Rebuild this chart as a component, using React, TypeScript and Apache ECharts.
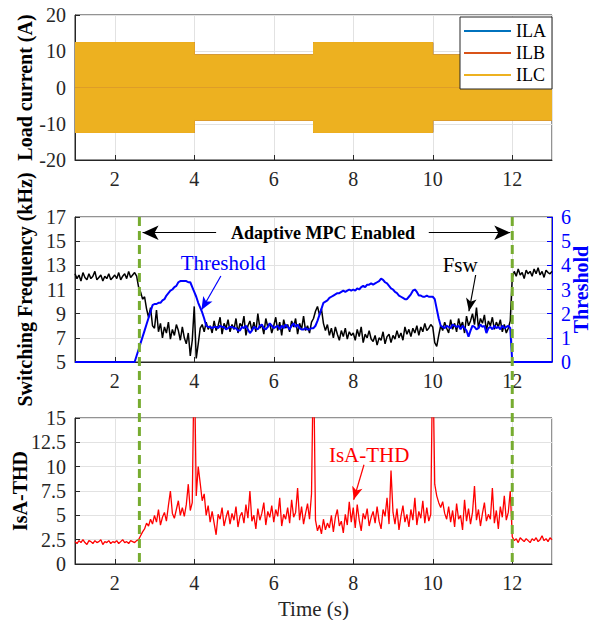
import React, { useEffect, useRef } from "react";
import * as echarts from "echarts";

const FONT = "Liberation Serif, Times New Roman, serif";

// sampling of the measured traces (s)
const T0 = 1;
const DT = 0.05;

// Load current envelope (A)
const loadTimes = [1, 4, 4, 7, 7, 10, 10, 13];
const loadAmplitude = [12.4, 12.4, 9, 9, 12.4, 12.4, 9, 9];
const phaseNames = ["ILA", "ILB", "ILC"];
const phaseColors = ["#0072BD", "#D95319", "#EDB120"];

// Switching frequency (kHz), t = 1 .. 13 step 0.05
const fswValues = [
  12.3, 11.9, 12.2, 11.7, 12.4, 12.0, 11.8, 12.3, 11.9, 12.1,
  12.5, 11.8, 12.0, 12.2, 11.7, 12.1, 11.9, 12.3, 11.8, 12.0,
  12.2, 11.9, 12.4, 11.8, 12.1, 12.3, 11.9, 12.5, 12.0, 12.2,
  12.4, 12.1, 11.2, 10.8, 10.2, 10.4, 9.4, 8.7, 9.5, 8.0,
  7.8, 9.3, 7.5, 8.2, 7.0, 7.9, 7.4, 8.3, 6.9, 7.7,
  7.2, 8.1, 7.6, 6.8, 7.9, 7.0, 6.5, 7.4, 5.5, 6.8,
  9.6, 5.3, 6.5, 7.8, 8.1, 7.5, 8.3, 7.7, 8.0, 7.4,
  8.4, 7.6, 8.0, 8.7, 7.3, 8.2, 7.8, 8.5, 7.5, 8.1,
  7.7, 8.6, 7.4, 8.2, 7.9, 8.8, 7.2, 8.0, 8.4, 7.6,
  8.3, 7.5, 9.0, 7.8, 8.1, 7.3, 8.6, 7.9, 8.2, 7.4,
  8.0, 8.7, 7.6, 8.3, 7.2, 8.5, 7.8, 8.1, 7.5, 8.4,
  7.9, 8.6, 7.3, 8.2, 7.7, 8.8, 7.6, 8.0, 7.4, 8.3,
  8.6, 9.2, 9.6, 8.9, 9.4, 8.2, 7.6, 8.1, 7.2, 7.8,
  7.0, 7.9, 7.3, 6.8, 7.6, 7.1, 7.8, 6.9, 7.5, 7.2,
  7.4, 6.8, 7.7, 7.1, 7.9, 6.6, 7.3, 7.0, 7.6, 6.9,
  6.7, 7.2, 6.4, 7.0, 6.8, 7.5, 6.5, 7.1, 7.3, 6.6,
  7.2, 6.9, 7.6, 7.0, 7.4, 6.8, 7.9, 7.3, 7.7, 7.1,
  7.8, 7.4, 8.0, 7.2, 7.9, 7.5, 8.2, 7.6, 7.8, 8.1,
  7.9, 6.6, 6.3, 7.2, 8.0, 7.6, 8.3, 7.8, 7.4, 8.5,
  7.7, 8.2, 7.5, 8.6, 7.9, 8.3, 7.4, 8.8, 8.0, 8.4,
  9.0, 8.1, 9.5, 7.8, 8.6, 8.2, 8.9, 7.6, 8.4, 8.0,
  8.7, 7.7, 8.3, 7.9, 8.5, 7.5, 8.1, 7.4, 7.8, 8.4,
  12.0, 12.5, 12.1, 12.7, 12.2, 12.4, 11.9, 12.6, 12.3, 12.5,
  12.1, 12.7, 12.3, 12.8, 12.2, 12.5, 12.0, 12.6, 12.4, 12.3,
  12.5,
];

// Threshold (right axis), t = 1 .. 13 step 0.05
const thresholdValues = [
  0, 0, 0, 0, 0, 0, 0, 0, 0, 0,
  0, 0, 0, 0, 0, 0, 0, 0, 0, 0,
  0, 0, 0, 0, 0, 0, 0, 0, 0, 0,
  0, 0.26, 0.52, 0.78, 1.04, 1.3, 1.56, 1.82, 2.08, 2.35,
  2.4, 2.4, 2.45, 2.45, 2.55, 2.6, 2.75, 2.85, 2.95, 3.0,
  3.1, 3.15, 3.3, 3.35, 3.35, 3.35, 3.35, 3.3, 3.3, 3.1,
  2.9, 2.7, 2.45, 2.25, 2.05, 1.8, 1.5, 1.45, 1.45, 1.4,
  1.45, 1.45, 1.4, 1.5, 1.45, 1.45, 1.35, 1.4, 1.45, 1.45,
  1.4, 1.4, 1.3, 1.3, 1.45, 1.4, 1.5, 1.35, 1.2, 1.3,
  1.45, 1.4, 1.35, 1.5, 1.55, 1.4, 1.35, 1.45, 1.6, 1.5,
  1.4, 1.45, 1.5, 1.35, 1.5, 1.4, 1.55, 1.45, 1.35, 1.5,
  1.6, 1.45, 1.55, 1.4, 1.35, 1.35, 1.4, 1.35, 1.35, 1.4,
  1.4, 1.5, 1.7, 1.95, 2.2, 2.45, 2.5, 2.55, 2.65, 2.7,
  2.75, 2.8, 2.85, 2.85, 2.9, 2.95, 2.9, 2.95, 3.0, 2.95,
  3.0, 2.95, 3.05, 3.0, 3.1, 3.15, 3.1, 3.2, 3.2, 3.25,
  3.2, 3.25, 3.3, 3.35, 3.45, 3.4, 3.3, 3.25, 3.15, 3.05,
  3.0, 2.9, 2.85, 2.75, 2.7, 2.65, 2.6, 2.6, 2.7, 2.8,
  2.95, 3.0, 2.9, 2.75, 2.75, 2.7, 2.7, 2.75, 2.7, 2.7,
  2.7, 2.6, 2.2, 1.8, 1.5, 1.45, 1.4, 1.5, 1.45, 1.4,
  1.55, 1.5, 1.45, 1.5, 1.35, 1.5, 1.4, 1.3, 1.05, 1.3,
  1.5, 1.45, 1.35, 1.4, 1.55, 1.45, 1.5, 1.2, 1.4, 1.45,
  1.35, 1.5, 1.4, 1.45, 1.35, 1.5, 1.4, 1.45, 1.5, 1.4,
  0, 0, 0, 0, 0, 0, 0, 0, 0, 0,
  0, 0, 0, 0, 0, 0, 0, 0, 0, 0,
  0,
];

// IsA THD, t = 1 .. 13 step 0.05 (values above 15 are clipped by the axis)
const thdValues = [
  2.3, 2.1, 2.4, 2.2, 2.5, 2.2, 2.0, 2.4, 2.3, 2.1,
  2.4, 2.2, 2.3, 2.5, 2.0, 2.3, 2.2, 2.4, 2.1, 2.3,
  2.2, 2.4, 2.1, 2.3, 2.5, 2.2, 2.3, 2.1, 2.4, 2.3,
  2.2, 2.4, 2.5, 2.9, 3.3, 3.6, 4.2, 3.9, 4.6, 4.1,
  5.0, 4.3, 5.6, 4.0, 4.8, 5.3, 4.4, 6.0, 7.5, 5.2,
  4.7, 5.6, 6.5, 5.0, 5.8, 4.9, 6.1, 8.2, 5.5, 6.3,
  22, 7.0, 10.0, 8.3, 6.5, 7.2, 5.0, 6.0, 4.3, 5.4,
  4.2, 3.0, 5.1, 4.6, 5.8, 3.9, 4.8, 5.5, 4.1, 5.2,
  4.5, 5.9, 3.8, 4.9, 5.3, 4.2, 6.1, 4.7, 7.5, 4.4,
  5.0, 3.6, 5.7, 4.5, 5.2, 6.3, 4.0, 5.4, 4.8, 6.0,
  4.3, 5.6, 4.9, 6.8, 3.9, 5.1, 4.6, 5.8, 4.2, 6.6,
  4.8, 5.3, 7.8, 4.5, 5.9, 4.1, 5.2, 6.2, 4.6, 7.2,
  22, 4.5, 3.4, 4.0, 3.1, 4.6, 3.5, 4.2, 3.7, 5.0,
  3.3, 4.8, 5.6, 3.9, 4.4, 3.2, 5.1, 4.0, 6.4, 4.3,
  5.8, 3.7, 6.1, 4.5, 3.4, 5.2, 4.6, 5.7, 3.9, 4.8,
  5.4, 4.2, 5.9, 4.4, 3.6, 5.6, 4.9, 6.8, 4.1, 9.6,
  5.3, 4.1, 5.7, 3.5, 4.9, 6.0, 4.3, 5.1, 3.8, 5.6,
  4.5, 6.8, 4.0, 5.4, 4.7, 6.5, 4.2, 5.8, 4.4, 5.1,
  22, 8.2, 7.0, 6.3, 5.8, 6.4, 5.2, 4.6, 5.9, 4.3,
  5.5, 3.8, 6.2, 4.6, 5.0, 3.5, 6.6, 4.4, 5.7, 4.1,
  5.3, 8.0, 4.5, 5.6, 3.9, 5.2, 6.3, 4.4, 5.1, 4.6,
  7.8, 4.2, 5.5, 3.6, 5.9, 4.8, 7.0, 4.5, 5.3, 7.5,
  2.8, 2.4, 2.6, 2.2, 2.7, 2.5, 2.3, 2.6, 2.4, 2.2,
  2.6, 2.4, 2.7, 2.3, 2.5, 2.9, 2.4, 2.6, 2.3, 2.7,
  2.5,
];

// Adaptive MPC enable / disable instants (s)
const enableTimes = [2.62, 12];

// annotation anchors [t, value]
const adaptiveText = [7.24, 15.7];
const adaptiveLeftArrow = [[4.55, 15.7], [2.7, 15.7]];
const adaptiveRightArrow = [[9.9, 15.7], [11.95, 15.7]];
const thresholdText = [4.73, 13.17];
const thresholdArrow = [[4.67, 12.12], [4.18, 9.3]];
const fswText = [10.69, 13.0];
const fswArrow = [[11.08, 12.2], [10.91, 9.2]];
const thdText = [8.4, 11.2];
const thdArrow = [[8.27, 10.2], [8.01, 6.6]];

const toPairs = (vals: number[]) => vals.map((v, i) => [+(T0 + i * DT).toFixed(2), v]);

const GRID_COLOR = "#e2e2e2";
const AXIS_COLOR = "#262626";

const txt = (size: number, color: string, bold = false) => ({
  fontFamily: FONT,
  fontSize: size,
  fontWeight: bold ? "bold" : "normal",
  fontStyle: "normal",
  color,
});

function xAxisCfg(gridIndex: number, name?: string) {
  return {
    type: "value",
    gridIndex,
    min: 1,
    max: 13,
    splitNumber: 6,
    name: name || "",
    nameLocation: "middle",
    nameGap: 34,
    nameMoveOverlap: false,
    nameTextStyle: txt(21, AXIS_COLOR),
    axisLine: { show: true, onZero: false, lineStyle: { color: AXIS_COLOR, width: 1 } },
    axisTick: { show: true, inside: true, length: 5, lineStyle: { color: AXIS_COLOR } },
    axisLabel: { showMinLabel: false, showMaxLabel: false, margin: 9, ...txt(20, AXIS_COLOR) },
    splitLine: { show: true, lineStyle: { color: GRID_COLOR, width: 1 } },
  };
}

function yAxisCfg(gridIndex: number, min: number, max: number, interval: number, name: string, gap: number, right = false) {
  const c = right ? "#0000FF" : AXIS_COLOR;
  return {
    type: "value",
    gridIndex,
    min,
    max,
    interval,
    position: right ? "right" : "left",
    name,
    nameLocation: "middle",
    nameGap: gap,
    nameMoveOverlap: false,
    nameRotate: 90,
    nameTextStyle: txt(20, right ? "#0000FF" : "#000", true),
    axisLine: { show: true, onZero: false, lineStyle: { color: c, width: 1 } },
    axisTick: { show: true, inside: true, length: 5, lineStyle: { color: c } },
    axisLabel: { margin: 9, ...txt(20, c) },
    splitLine: { show: !right, lineStyle: { color: GRID_COLOR, width: 1 } },
  };
}

const gridCfg = (top: number, height: number) => ({
  left: 75,
  width: 477,
  top,
  height,
  show: true,
  borderColor: AXIS_COLOR,
  borderWidth: 1,
  backgroundColor: "transparent",
  containLabel: false,
  outerBoundsMode: "none",
});

export default function App() {
  const ref = useRef<HTMLDivElement>(null);

  useEffect(() => {
    if (!ref.current) return;
    const chart = echarts.init(ref.current, null, { renderer: "svg" });

    const bandSeries: any[] = [];
    phaseNames.forEach((name, k) => {
      [1, -1].forEach((sign) => {
        bandSeries.push({
          type: "line",
          name,
          xAxisIndex: 0,
          yAxisIndex: 0,
          data: loadTimes.map((t, i) => [t, sign * loadAmplitude[i]]),
          showSymbol: false,
          symbol: "none",
          color: phaseColors[k],
          lineStyle: { color: phaseColors[k], width: 1 },
          areaStyle: { color: phaseColors[k], opacity: 1 },
          z: 2 + k,
          silent: true,
        });
      });
    });

    const arrowItem = (pts: number[][], color: string, size: number[]) => [
      { coord: pts[0], symbol: "none", lineStyle: { color, width: 1.2, type: "solid" } },
      { coord: pts[1], symbol: "arrow", symbolSize: size },
    ];

    const option: any = {
      animation: false,
      backgroundColor: "#ffffff",
      textStyle: { fontFamily: FONT, fontWeight: "normal" },
      grid: [gridCfg(15, 145), gridCfg(217, 145), gridCfg(418, 146)],
      legend: {
        data: phaseNames,
        orient: "vertical",
        left: 460,
        top: 17,
        backgroundColor: "#ffffff",
        borderColor: AXIS_COLOR,
        borderWidth: 1,
        borderRadius: 0,
        padding: [5, 6, 5, 4],
        itemWidth: 47,
        itemHeight: 2,
        itemGap: 4,
        icon: "rect",
        selectedMode: false,
        textStyle: txt(18, "#000"),
        z: 10,
      },
      xAxis: [xAxisCfg(0), xAxisCfg(1), xAxisCfg(2, "Time (s)")],
      yAxis: [
        yAxisCfg(0, -20, 20, 10, "Load current (A)", 40),
        yAxisCfg(1, 5, 17, 2, "Switching Frequency (kHz)", 40),
        yAxisCfg(1, 0, 6, 1, "Threshold", 19, true),
        yAxisCfg(2, 0, 15, 2.5, "IsA-THD", 45),
      ],
      series: [
        ...bandSeries,
        {
          type: "line",
          name: "Fsw",
          xAxisIndex: 1,
          yAxisIndex: 1,
          data: toPairs(fswValues),
          showSymbol: false,
          symbol: "none",
          color: "#000",
          lineStyle: { color: "#000", width: 1.5 },
          z: 3,
          silent: true,
          markLine: {
            silent: true,
            animation: false,
            label: { show: false },
            emphasis: { disabled: true },
            data: [
              arrowItem(adaptiveLeftArrow, "#000", [11, 16]),
              arrowItem(adaptiveRightArrow, "#000", [11, 16]),
              arrowItem(thresholdArrow, "#0000FF", [8, 13]),
              arrowItem(fswArrow, "#000", [8, 13]),
            ],
          },
        },
        {
          type: "line",
          name: "Threshold",
          xAxisIndex: 1,
          yAxisIndex: 2,
          data: toPairs(thresholdValues),
          showSymbol: false,
          symbol: "none",
          color: "#0000FF",
          lineStyle: { color: "#0000FF", width: 2 },
          z: 4,
          silent: true,
        },
        {
          type: "line",
          name: "IsA-THD",
          xAxisIndex: 2,
          yAxisIndex: 3,
          data: toPairs(thdValues),
          showSymbol: false,
          symbol: "none",
          color: "#FF0000",
          lineStyle: { color: "#FF0000", width: 1.3 },
          z: 3,
          silent: true,
          markLine: {
            silent: true,
            animation: false,
            label: { show: false },
            emphasis: { disabled: true },
            data: [arrowItem(thdArrow, "#FF0000", [8, 13])],
          },
        },
      ],
    };

    chart.setOption(option);

    const fswIdx = bandSeries.length;
    const thdIdx = bandSeries.length + 2;
    const px = (si: number, p: number[]) => chart.convertToPixel({ seriesIndex: si }, p) as unknown as number[];

    const yTop = chart.convertToPixel({ yAxisIndex: 1 }, 17) as unknown as number;
    const yBottom = chart.convertToPixel({ yAxisIndex: 3 }, 0) as unknown as number;

    const graphics: any[] = enableTimes.map((t) => {
      const x = chart.convertToPixel({ xAxisIndex: 1 }, t) as unknown as number;
      return {
        type: "line",
        shape: { x1: x, y1: yTop, x2: x, y2: yBottom },
        style: { stroke: "#77AC30", lineWidth: 3, lineDash: [9, 5] },
        z: 100,
        silent: true,
      };
    });

    const addText = (si: number, p: number[], text: string, color: string, size: number, bold = false) => {
      const [x, y] = px(si, p);
      graphics.push({
        type: "text",
        x,
        y,
        silent: true,
        z: 101,
        style: {
          text,
          fill: color,
          fontFamily: FONT,
          fontSize: size,
          fontWeight: bold ? "bold" : "normal",
          align: "center",
          verticalAlign: "middle",
        },
      });
    };

    addText(fswIdx, adaptiveText, "Adaptive MPC Enabled", "#000", 18, true);
    addText(fswIdx, thresholdText, "Threshold", "#0000FF", 21);
    addText(fswIdx, fswText, "Fsw", "#000", 21);
    addText(thdIdx, thdText, "IsA-THD", "#FF0000", 21);

    chart.setOption({ graphic: graphics });

    return () => chart.dispose();
  }, []);

  return (
    <div
      ref={ref}
      style={{ position: "absolute", left: 0, top: 0, width: 593, height: 620, background: "#fff" }}
    />
  );
}
